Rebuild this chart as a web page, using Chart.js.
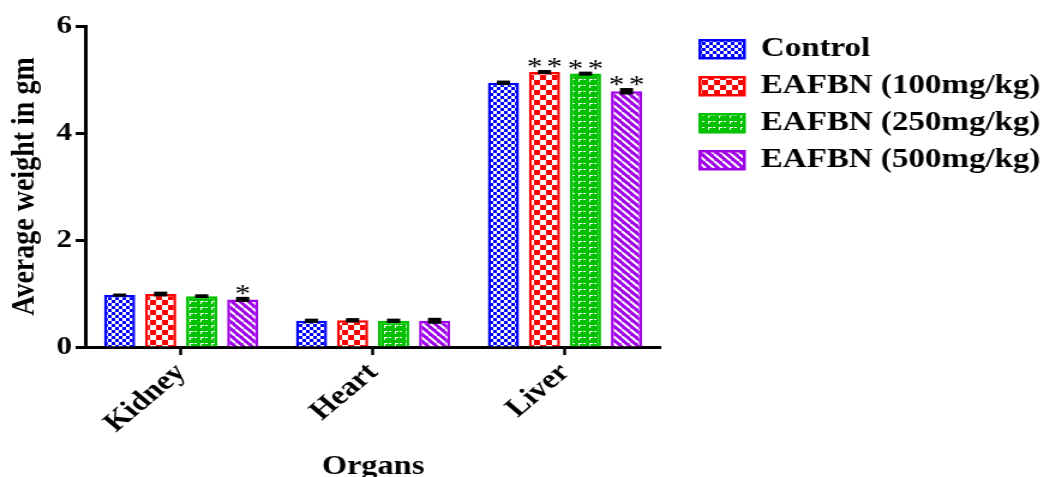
<!DOCTYPE html>
<html>
<head>
<meta charset="utf-8">
<script src="https://cdn.jsdelivr.net/npm/chart.js@4.4.1/dist/chart.umd.min.js"></script>
<style>
  html, body { margin: 0; padding: 0; background: #fff; overflow: hidden; }
  /* the figure is laid out on a narrower canvas and widened 1.2x */
  #wrap { width: 871px; height: 485px; transform: scaleX(1.2); transform-origin: 0 0; }
  canvas { display: block; }
</style>
</head>
<body>
<div id="wrap"><canvas id="c" width="871" height="485"></canvas></div>
<script>
// Organ weights (g), mean and SEM per treatment group
const organs = ['Kidney', 'Heart', 'Liver'];
const groupNames = ['Control', 'EAFBN (100mg/kg)', 'EAFBN (250mg/kg)', 'EAFBN (500mg/kg)'];

const controlMean = [0.97, 0.49, 4.94];
const dose100Mean = [0.99, 0.50, 5.14];
const dose250Mean = [0.95, 0.49, 5.11];
const dose500Mean = [0.89, 0.49, 4.78];

const controlSem = [0.03, 0.04, 0.04];
const dose100Sem = [0.045, 0.04, 0.037];
const dose250Sem = [0.035, 0.04, 0.037];
const dose500Sem = [0.047, 0.056, 0.06];

// significance marks drawn above the bars
const controlSig = ['', '', ''];
const dose100Sig = ['', '', '**'];
const dose250Sig = ['', '', '**'];
const dose500Sig = ['*', '', '**'];

const yTickValues = [0, 2, 4, 6];

const SERIF = "'Liberation Serif', 'Times New Roman', serif";

// ---- fill patterns ----
function tilePattern(w, h, paint) {
  const c = document.createElement('canvas');
  c.width = w; c.height = h;
  const g = c.getContext('2d');
  paint(g, w, h);
  return g.createPattern(c, 'repeat');
}
const BLUE = '#0000ff', RED = '#ff0000', GREEN = '#00c000', PURPLE = '#a000e6';

const bluePattern = tilePattern(6, 6, (g) => {
  g.fillStyle = BLUE; g.fillRect(0, 0, 6, 6);
  g.fillStyle = '#fff'; g.fillRect(0, 0, 3, 3); g.fillRect(3, 3, 3, 3);
});
const redPattern = tilePattern(10, 10, (g) => {
  g.fillStyle = RED; g.fillRect(0, 0, 10, 10);
  g.fillStyle = '#fff'; g.fillRect(0, 0, 5, 5); g.fillRect(5, 5, 5, 5);
});
const greenPattern = tilePattern(9, 6, (g) => {
  g.fillStyle = GREEN; g.fillRect(0, 0, 9, 6);
  g.fillStyle = '#fff';
  g.fillRect(0, 1, 2, 1);
  g.fillRect(5, 1, 3, 1);
  g.fillRect(5, 2, 1, 2);
});
const purplePattern = tilePattern(7, 7, (g) => {
  g.fillStyle = PURPLE; g.fillRect(0, 0, 7, 7);
  g.strokeStyle = '#fff'; g.lineWidth = 2;
  g.beginPath();
  for (const k of [-7, 0, 7]) { g.moveTo(k, 0); g.lineTo(k + 7, 7); }
  g.stroke();
});

function series(label, data, sem, sig, fill, edge) {
  return {
    label, data, sem, sig,
    backgroundColor: fill,
    borderColor: edge,
    borderWidth: 2.5,
    borderSkipped: 'start',
    categoryPercentage: 0.855,
    barPercentage: 0.76
  };
}

// SEM caps and significance asterisks
const semBars = {
  id: 'semBars',
  afterDatasetsDraw(chart) {
    const ctx = chart.ctx;
    const y = chart.scales.y;
    ctx.save();
    chart.data.datasets.forEach((ds, i) => {
      const meta = chart.getDatasetMeta(i);
      meta.data.forEach((bar, j) => {
        const v = ds.data[j], e = ds.sem[j];
        const top = y.getPixelForValue(v + e);
        const bot = y.getPixelForValue(v - e);
        ctx.fillStyle = '#000';
        ctx.fillRect(bar.x - 5.5, top, 11, Math.max(bot - top, 3));
        const marks = ds.sig[j];
        if (marks) {
          ctx.font = '26px ' + SERIF;
          ctx.textAlign = 'center';
          ctx.textBaseline = 'alphabetic';
          const n = marks.length;
          for (let k = 0; k < n; k++) {
            ctx.fillText('*', bar.x + (k - (n - 1) / 2) * 16.6, top + 5);
          }
        }
      });
    });
    ctx.restore();
  }
};

// nudge the legend block right of the plot
const legendNudge = {
  id: 'legendNudge',
  afterLayout(chart) {
    const l = chart.legend;
    l.left += 23; l.right += 23;
  }
};

new Chart(document.getElementById('c'), {
  type: 'bar',
  data: {
    labels: organs,
    datasets: [
      series(groupNames[0], controlMean, controlSem, controlSig, bluePattern, BLUE),
      series(groupNames[1], dose100Mean, dose100Sem, dose100Sig, redPattern, RED),
      series(groupNames[2], dose250Mean, dose250Sem, dose250Sig, greenPattern, GREEN),
      series(groupNames[3], dose500Mean, dose500Sem, dose500Sig, purplePattern, PURPLE)
    ]
  },
  options: {
    responsive: false,
    animation: false,
    devicePixelRatio: 1,
    layout: { padding: { top: 26, right: 17, bottom: 0, left: 0 } },
    plugins: {
      legend: {
        position: 'right',
        align: 'start',
        maxWidth: 400,
        labels: {
          boxWidth: 37,
          boxHeight: 18,
          padding: 9.5,
          color: '#000',
          font: { family: SERIF, size: 27.5, weight: 'bold' }
        }
      },
      tooltip: { enabled: false }
    },
    scales: {
      x: {
        offset: true,
        grid: { offset: false, drawOnChartArea: false, drawTicks: true, tickLength: 8, tickWidth: 2.5, tickColor: '#000' },
        border: { display: true, color: '#000', width: 3 },
        ticks: { color: '#000', minRotation: 45, maxRotation: 45, padding: 2, font: { family: SERIF, size: 27, weight: 'bold' } },
        title: { display: true, text: 'Organs', color: '#000', padding: { top: 0, bottom: 2 }, font: { family: SERIF, size: 27, weight: 'bold' } },
        afterFit(s) { s.height = 138; }
      },
      y: {
        min: 0, max: 6,
        afterBuildTicks(s) { s.ticks = yTickValues.map(v => ({ value: v })); },
        grid: { drawOnChartArea: false, drawTicks: true, tickLength: 8, tickWidth: 3, tickColor: '#000' },
        border: { display: true, color: '#000', width: 3 },
        ticks: { color: '#000', padding: 3, font: { family: SERIF, size: 26, weight: 'bold' } },
        title: { display: true, text: 'Average weight in gm', color: '#000', padding: { top: 4, bottom: 0 }, font: { family: SERIF, size: 28, weight: 'bold' } },
        afterFit(s) { s.width = 71; }
      }
    }
  },
  plugins: [semBars, legendNudge]
});
</script>
</body>
</html>
